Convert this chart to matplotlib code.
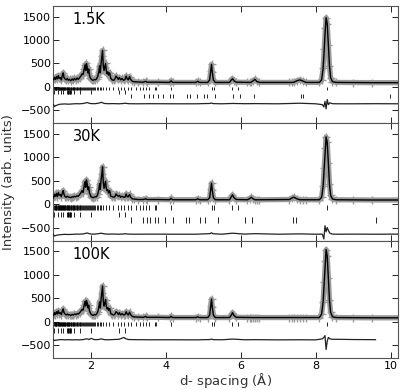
import numpy as np
import matplotlib
matplotlib.use("Agg")
import matplotlib.pyplot as plt

# ---------------- data ----------------
d_obs = [
    1.00, 1.03, 1.05, 1.08, 1.10, 1.13, 1.15, 1.18, 1.21, 1.24,
    1.26, 1.28, 1.31, 1.34, 1.37, 1.40, 1.43, 1.46, 1.50, 1.53,
    1.56, 1.60, 1.63, 1.66, 1.70, 1.73, 1.76, 1.79, 1.82, 1.84,
    1.86, 1.88, 1.90, 1.92, 1.94, 1.96, 1.98, 2.00, 2.03, 2.06,
    2.09, 2.12, 2.15, 2.18, 2.21, 2.23, 2.25, 2.27, 2.29, 2.31,
    2.33, 2.35, 2.37, 2.39, 2.41, 2.43, 2.45, 2.47, 2.50, 2.53,
    2.57, 2.61, 2.64, 2.67, 2.70, 2.73, 2.76, 2.79, 2.83, 2.87,
    2.91, 2.94, 2.97, 3.00, 3.03, 3.06,
    3.10, 3.15, 3.25, 3.40, 3.46, 3.50, 3.80, 4.10, 4.14, 4.18,
    4.80, 4.85, 4.90, 5.12, 5.17, 5.20, 5.22, 5.24, 5.27, 5.32,
    5.70, 5.75, 5.78, 5.82, 5.88, 6.18, 6.24, 6.28, 6.32, 6.38,
    6.43, 6.50, 7.30, 7.36, 7.42, 7.50, 7.58, 7.66, 7.75, 8.10,
    8.16, 8.20, 8.23, 8.26, 8.28, 8.31, 8.34, 8.37, 8.40, 8.45,
    8.55, 9.00, 9.50, 10.2,
]

I_15K = [
    150, 200, 160, 220, 170, 240, 180, 200, 150, 260,
    300, 200, 170, 150, 180, 140, 160, 130, 170, 140,
    180, 150, 190, 160, 200, 230, 280, 260, 380, 470,
    350, 500, 420, 300, 380, 250, 200, 170, 150, 140,
    160, 150, 170, 220, 320, 450, 300, 500, 650, 780,
    450, 350, 420, 500, 350, 280, 320, 250, 300, 180,
    150, 140, 170, 230, 200, 160, 200, 150, 180, 140,
    160, 230, 170, 150, 220, 160,
    120, 110, 105, 100, 120, 100, 100, 95, 130, 95,
    95, 120, 95, 95, 150, 350, 480, 320, 150, 95,
    95, 150, 175, 130, 100, 95, 95, 100, 125, 160,
    115, 95, 95, 95, 100, 130, 150, 125, 95, 95,
    150, 400, 800, 1250, 1480, 1350, 900, 450, 200, 110,
    95, 92, 90, 90,
]

I_30K = [
    140, 210, 170, 230, 160, 250, 190, 210, 160, 250,
    290, 210, 160, 150, 170, 150, 150, 140, 160, 150,
    170, 160, 180, 170, 210, 240, 290, 250, 400, 480,
    360, 520, 430, 310, 370, 240, 210, 160, 150, 140,
    150, 160, 160, 210, 310, 440, 320, 520, 640, 800,
    460, 340, 410, 490, 340, 290, 310, 240, 290, 170,
    160, 150, 160, 220, 190, 170, 190, 150, 170, 150,
    150, 220, 160, 160, 210, 150,
    115, 110, 100, 100, 115, 100, 100, 95, 125, 95,
    95, 115, 95, 95, 140, 330, 450, 300, 140, 95,
    95, 160, 200, 140, 100, 95, 120, 150, 120, 95,
    95, 95, 100, 130, 150, 115, 95, 95, 95, 95,
    150, 380, 780, 1200, 1440, 1320, 880, 430, 190, 110,
    95, 92, 90, 90,
]

I_100K = [
    130, 190, 150, 210, 160, 230, 170, 190, 150, 240,
    270, 190, 160, 140, 160, 140, 150, 130, 150, 140,
    160, 150, 170, 160, 190, 220, 260, 240, 350, 430,
    330, 450, 400, 290, 350, 230, 190, 160, 140, 130,
    150, 140, 160, 200, 300, 420, 290, 470, 620, 760,
    430, 330, 390, 470, 330, 270, 300, 240, 280, 170,
    150, 140, 160, 210, 190, 150, 190, 140, 170, 140,
    150, 210, 160, 140, 200, 150,
    110, 100, 95, 90, 110, 90, 90, 85, 110, 85,
    85, 100, 85, 85, 140, 340, 480, 310, 140, 85,
    85, 140, 190, 130, 90, 85, 85, 85, 85, 85,
    85, 85, 85, 85, 85, 85, 85, 85, 85, 85,
    160, 420, 850, 1300, 1540, 1400, 930, 460, 200, 100,
    85, 82, 80, 80,
]

d_diff = [
    1.00, 1.03, 1.06, 1.10, 1.15, 1.20, 1.30, 1.40, 1.50, 1.60,
    1.70, 1.80, 1.85, 1.90, 1.95, 2.00, 2.10, 2.20, 2.28, 2.32,
    2.36, 2.45, 2.60, 2.75, 2.88, 2.92, 3.00, 3.20, 3.60, 4.20,
    4.80, 5.18, 5.22, 5.26, 5.50, 5.78, 6.10, 6.38, 7.00, 7.58,
    8.00, 8.18, 8.22, 8.25, 8.28, 8.31, 8.34, 8.38, 8.45, 8.60,
    9.00, 9.60, 10.2,
]

diff_15K = [
    -380, -420, -400, -390, -375, -370, -365, -370, -365, -360,
    -362, -355, -345, -335, -350, -358, -360, -350, -330, -345,
    -355, -360, -358, -362, -355, -350, -360, -362, -360, -362,
    -362, -355, -345, -358, -362, -355, -360, -358, -362, -350,
    -362, -380, -430, -310, -470, -270, -380, -340, -360, -362,
    -362, -360, -362,
]

diff_30K = [
    -650, -680, -670, -660, -655, -650, -645, -648, -645, -640,
    -640, -635, -625, -615, -630, -638, -640, -630, -620, -628,
    -635, -640, -638, -642, -636, -632, -640, -642, -640, -642,
    -642, -630, -610, -632, -642, -620, -640, -630, -642, -635,
    -642, -640, -745, -460, -590, -500, -560, -620, -640, -642,
    -640, -642, -640,
]

diff_100K = [
    -390, -405, -400, -395, -390, -385, -392, -388, -392, -390,
    -392, -385, -375, -370, -385, -360, -388, -385, -370, -380,
    -388, -390, -385, -380, -340, -365, -385, -388, -390, -390,
    -392, -385, -375, -388, -390, -375, -390, -388, -392, -390,
    -392, -370, -340, -300, -600, -420, -340, -370, -380, -380,
    -385, -388, np.nan,
]

# reflection positions
refl_main = [
    1.00, 1.015, 1.03, 1.04, 1.055, 1.07, 1.08, 1.095, 1.11, 1.12,
    1.135, 1.15, 1.165, 1.18, 1.19, 1.205, 1.22, 1.235, 1.25, 1.26,
    1.275, 1.29, 1.305, 1.32, 1.335, 1.35, 1.365, 1.38, 1.395, 1.41,
    1.425, 1.44, 1.46, 1.475, 1.49, 1.51, 1.53, 1.545, 1.56, 1.58,
    1.60, 1.62, 1.64, 1.66, 1.68, 1.70, 1.72, 1.745, 1.77, 1.79,
    1.815, 1.84, 1.865, 1.89, 1.915, 1.94, 1.97, 2.00, 2.03, 2.06,
    2.09, 2.12, 2.16, 2.20, 2.24, 2.28, 2.31, 2.40, 2.49, 2.58,
    2.71, 2.80, 2.89, 2.98, 3.07, 3.21, 3.30, 3.38, 3.47, 3.56,
    3.70, 3.74, 4.14, 5.22, 5.28, 5.77, 5.93, 8.30,
]
refl_second = [1.02, 1.11, 1.20, 1.26, 1.37, 1.385, 1.40, 1.415, 1.43,
               1.445, 1.46, 1.55, 1.72, 2.00, 2.76, 2.90]
refl_mag_15K = [3.08, 3.43, 3.54, 3.65, 3.79, 3.92, 4.12, 4.19, 4.57, 4.64,
                4.82, 5.02, 5.09, 5.31, 5.79, 5.98, 6.36, 7.60, 7.66, 9.98]
refl_mag_30K = [3.07, 3.40, 3.49, 3.58, 3.70, 3.79, 3.99, 4.19, 4.55, 4.61,
                4.90, 5.04, 5.39, 6.11, 6.29, 7.40, 7.47, 9.60]

labels = ["1.5K", "30K", "100K"]
obs_sets = [I_15K, I_30K, I_100K]
diff_sets = [diff_15K, diff_30K, diff_100K]
mag_sets = [refl_mag_15K, refl_mag_30K, None]
# tick-row extents (ymin, ymax) for main, second, magnetic rows
rows = [
    [(-60, -5), (-150, -70), (-240, -150)],
    [(-120, -15), (-270, -165), (-400, -280)],
    [(-85, -5), (-235, -130), None],
]

# ---------------- plot ----------------
fig = plt.figure(figsize=(4.02, 3.90), dpi=100)
top = 1 - 6 / 390
bot = 1 - 358 / 390
left = 53.5 / 402
right = 398 / 402
h = (top - bot) / 3
axes = []
for i in range(3):
    ax = fig.add_axes([left, top - (i + 1) * h, right - left, h])
    axes.append(ax)

for i, ax in enumerate(axes):
    ax.plot(d_obs, obs_sets[i], color="#9a9a9a", lw=3.8, marker="+",
            ms=6, mew=1.0, zorder=2)
    ax.plot(d_obs, obs_sets[i], color="black", lw=1.0, zorder=3)
    ax.plot(d_diff, diff_sets[i], color="#222222", lw=0.9, zorder=3)
    r = rows[i]
    ax.vlines(refl_main, r[0][0], r[0][1], color="black", lw=0.6)
    ax.vlines(refl_second, r[1][0], r[1][1], color="black", lw=0.6)
    if mag_sets[i] is not None:
        ax.vlines(mag_sets[i], r[2][0], r[2][1], color="black", lw=0.6)
    ax.set_xlim(1.0, 10.2)
    ax.set_ylim(-780, 1730)
    ax.set_xticks([2, 4, 6, 8, 10])
    ax.set_yticks([-500, 0, 500, 1000, 1500])
    ax.tick_params(direction="in", top=True, right=True, length=4,
                   width=0.6, labelsize=8, pad=2.0, colors="black")
    for sp in ax.spines.values():
        sp.set_color("#555555")
        sp.set_linewidth(0.8)
    ax.text(0.055, 0.885, labels[i], transform=ax.transAxes,
            fontsize=10.5, va="center", ha="left")
    if i < 2:
        ax.tick_params(labelbottom=False)

fig.text((left + right) / 2, 1 - 381 / 390, r"d- spacing ($\mathrm{\AA}$)",
         fontsize=9.5, color="#333333", ha="center", va="center")
fig.text(0.022, (top + bot) / 2, "Intensity (arb. units)", rotation=90,
         va="center", ha="center", fontsize=9.5, color="#333333")

fig.savefig("out.png", dpi=100)
